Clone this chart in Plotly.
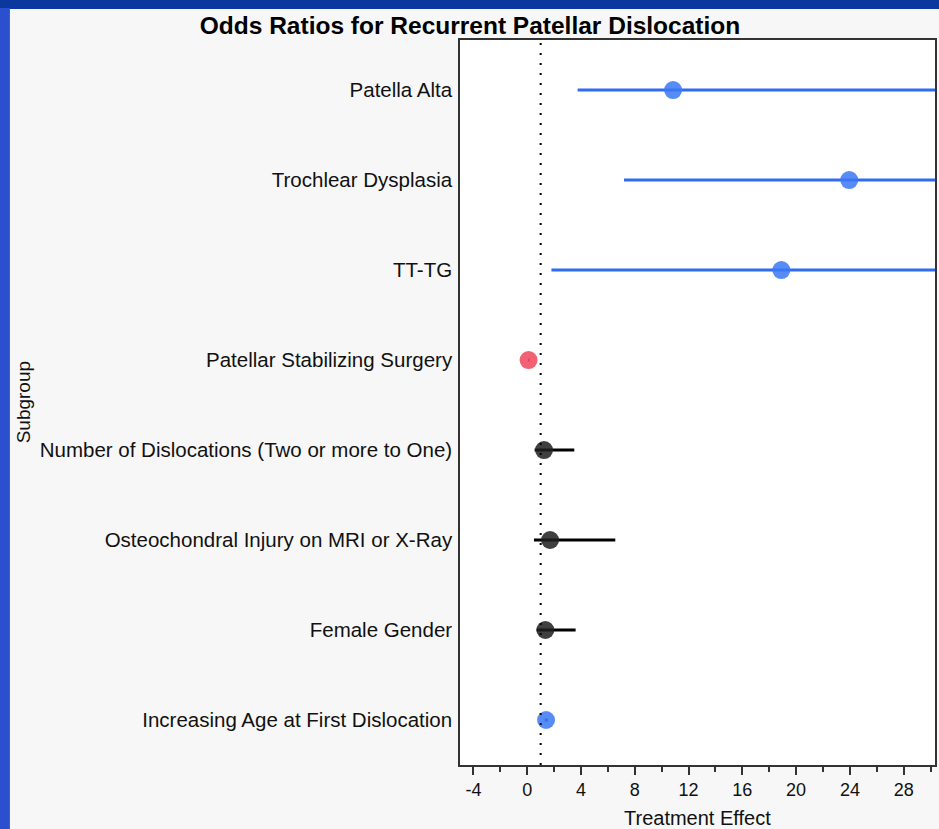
import plotly.graph_objects as go

# ---------------- data ----------------
subgroups = [
    "Patella Alta",
    "Trochlear Dysplasia",
    "TT-TG",
    "Patellar Stabilizing Surgery",
    "Number of Dislocations (Two or more to One)",
    "Osteochondral Injury on MRI or X-Ray",
    "Female Gender",
    "Increasing Age at First Dislocation",
]
odds_ratio = [10.85, 23.95, 18.9, 0.1, 1.25, 1.7, 1.35, 1.4]
ci_lower = [3.75, 7.2, 1.8, 0.06, 0.55, 0.5, 0.7, 1.3]
ci_upper = [40.0, 60.0, 50.0, 0.18, 3.5, 6.55, 3.6, 1.55]
marker_colors = ["rgba(58,120,245,0.85)"] * 3 + ["rgba(238,70,92,0.85)"] + ["rgba(30,30,30,0.85)"] * 3 + ["rgba(58,120,245,0.85)"]
line_colors = ["#2f6cf2"] * 3 + ["#c8283c"] + ["#000000"] * 3 + ["#1f4fc8"]
x_ticks = [-4, 0, 4, 8, 12, 16, 20, 24, 28]
null_value = 1

FONT = "Liberation Sans, Arial, sans-serif"

fig = go.Figure()
for name, est, lo, hi, mc, lc in zip(subgroups, odds_ratio, ci_lower, ci_upper, marker_colors, line_colors):
    fig.add_trace(go.Scatter(
        x=[est], y=[name], mode="markers",
        marker=dict(size=18, color=mc, line=dict(width=0)),
        error_x=dict(type="data", symmetric=False, array=[hi - est], arrayminus=[est - lo],
                     color=lc, thickness=3, width=0),
        showlegend=False, cliponaxis=True,
    ))

W, H = 939, 829
L, R, T, B = 460, 2, 40, 64
pw, ph = W - L - R, H - T - B

def px(x):
    return (x - L) / pw

def py(y):
    return (H - B - y) / ph

shapes = [
    # left bright-blue band of the slide frame
    dict(type="rect", xref="paper", yref="paper", x0=px(-5), x1=px(8), y0=py(840), y1=py(8),
         fillcolor="#2a50cf", line=dict(width=0), layer="below"),
    # light grey panel
    dict(type="rect", xref="paper", yref="paper", x0=px(8), x1=px(945), y0=py(840), y1=py(9),
         fillcolor="#f7f7f7", line=dict(width=0), layer="below"),
    # white plot area
    dict(type="rect", xref="paper", yref="paper", x0=0, x1=1, y0=0, y1=1,
         fillcolor="#ffffff", line=dict(width=0), layer="below"),
    # reference line at OR = 1
    dict(type="line", xref="x", yref="paper", x0=null_value, x1=null_value, y0=0, y1=1,
         line=dict(color="#000000", width=2, dash="2px,8px")),
]

fig.update_layout(
    width=W, height=H,
    margin=dict(l=L, r=R, t=T, b=B, pad=0),
    paper_bgcolor="#0a389f",
    plot_bgcolor="#ffffff",
    font=dict(family=FONT, size=20, color="#111111"),
    title=dict(text="<b>Odds Ratios for Recurrent Patellar Dislocation</b>",
               x=470 / W, xref="container", xanchor="center",
               y=1 - 25 / H, yref="container", yanchor="middle",
               font=dict(family=FONT, size=24.5, color="#000000")),
    shapes=shapes,
    annotations=[
        dict(text="Treatment Effect", xref="paper", yref="paper", x=0.5, y=py(818),
             xanchor="center", yanchor="middle", showarrow=False,
             font=dict(family=FONT, size=20, color="#111111")),
        dict(text="Subgroup", xref="paper", yref="paper", x=px(22), y=0.5, textangle=-90,
             xanchor="center", yanchor="middle", showarrow=False,
             font=dict(family=FONT, size=19, color="#111111")),
    ],
)

fig.update_xaxes(
    range=[-5, 30.33], tickvals=x_ticks, ticktext=[str(v) for v in x_ticks],
    ticks="outside", ticklen=8, tickwidth=1.5, tickcolor="#333333",
    minor=dict(dtick=2, tick0=0, ticklen=5, tickwidth=1.5, tickcolor="#333333", ticks="outside", showgrid=False),
    showline=True, linecolor="#333333", linewidth=1.5, mirror=True,
    showgrid=False, zeroline=False,
    tickfont=dict(family=FONT, size=18, color="#111111"),
)
fig.update_yaxes(
    type="category", categoryorder="array", categoryarray=subgroups[::-1],
    range=[-0.5, 7.556],
    ticks="", ticklabelstandoff=2,
    showline=True, linecolor="#333333", linewidth=1.5, mirror=True,
    showgrid=False, zeroline=False,
    tickfont=dict(family=FONT, size=20.5, color="#111111"),
)

fig.write_html(
    "out.html",
    config={"displayModeBar": False},
    post_script="document.body.style.margin='0';document.body.style.overflow='hidden';document.body.style.background='#0a389f';",
)
